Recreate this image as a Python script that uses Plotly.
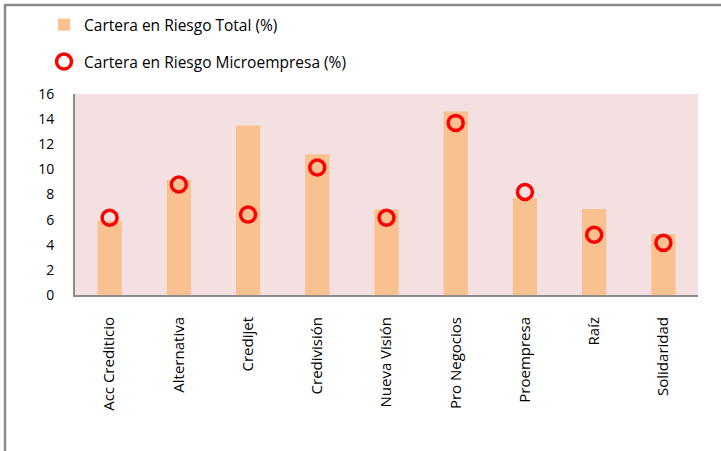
import plotly.graph_objects as go

categories = ["Acc Crediticio", "Alternativa", "Credijet", "Credivisión", "Nueva Visión",
              "Pro Negocios", "Proempresa", "Raíz", "Solidaridad"]
riesgo_total = [5.9, 9.15, 13.5, 11.2, 6.8, 14.6, 7.7, 6.85, 4.85]
riesgo_micro = [6.15, 8.8, 6.4, 10.15, 6.15, 13.7, 8.2, 4.8, 4.15]
y_ticks = [0, 2, 4, 6, 8, 10, 12, 14, 16]

FONT = "Open Sans"
W, H = 721, 451
L, R, T, B = 75, 23, 94, 156
pw, ph = W - L - R, H - T - B

def px_x(p):
    return (p - L) / pw

def px_y(p):
    return (H - B - p) / ph

fig = go.Figure()
fig.add_trace(go.Bar(
    x=categories, y=riesgo_total, name="Cartera en Riesgo Total (%)",
    marker=dict(color="#F9C18F", line=dict(width=0)), legend="legend",
    showlegend=True,
))
fig.add_trace(go.Scatter(
    x=categories, y=riesgo_micro, name="Cartera en Riesgo Microempresa (%)",
    mode="markers",
    marker=dict(symbol="circle", size=15, color="rgba(255,255,255,0)",
                line=dict(color="#FF0000", width=3.5)),
    legend="legend2", showlegend=True,
))

fig.update_layout(
    width=W, height=H,
    margin=dict(l=L, r=R, t=T, b=B, pad=0, autoexpand=False),
    paper_bgcolor="white",
    plot_bgcolor="#F4E0E0",
    bargap=0.65,
    showlegend=True,
    font=dict(family=FONT, size=13, color="black"),
    legend=dict(x=px_x(44), y=px_y(25), xanchor="left", yanchor="middle",
                bgcolor="rgba(0,0,0,0)", font=dict(size=15.5, family=FONT),
                itemwidth=30, visible=True),
    legend2=dict(x=px_x(44), y=px_y(62), xanchor="left", yanchor="middle",
                 bgcolor="rgba(0,0,0,0)", font=dict(size=15.5, family=FONT),
                 itemwidth=30, visible=True),
    xaxis=dict(
        type="category", tickangle=-90, showgrid=False, ticks="",
        showline=True, linecolor="#8C8C8C", linewidth=2, automargin=False,
        tickfont=dict(size=15, family=FONT), ticklabelstandoff=14,
        range=[-0.5, len(categories) - 0.5],
    ),
    yaxis=dict(
        range=[0, 16], tickvals=y_ticks, ticktext=[str(v) for v in y_ticks],
        showgrid=False, zeroline=False, ticks="", automargin=False,
        showline=True, linecolor="#8C8C8C", linewidth=2,
        tickfont=dict(size=14, family=FONT), ticklabelstandoff=16,
    ),
    shapes=[
        dict(type="line", xref="paper", yref="paper",
             x0=px_x(4), x1=px_x(725), y0=px_y(5), y1=px_y(5),
             line=dict(color="#8C8C8C", width=2.5)),
        dict(type="line", xref="paper", yref="paper",
             x0=px_x(5), x1=px_x(5), y0=px_y(4), y1=px_y(460),
             line=dict(color="#8C8C8C", width=2.5)),
    ],
)

fig.write_html("out.html",
               config={"displayModeBar": False},
               post_script="document.body.style.margin='0';document.body.style.overflow='hidden';")
